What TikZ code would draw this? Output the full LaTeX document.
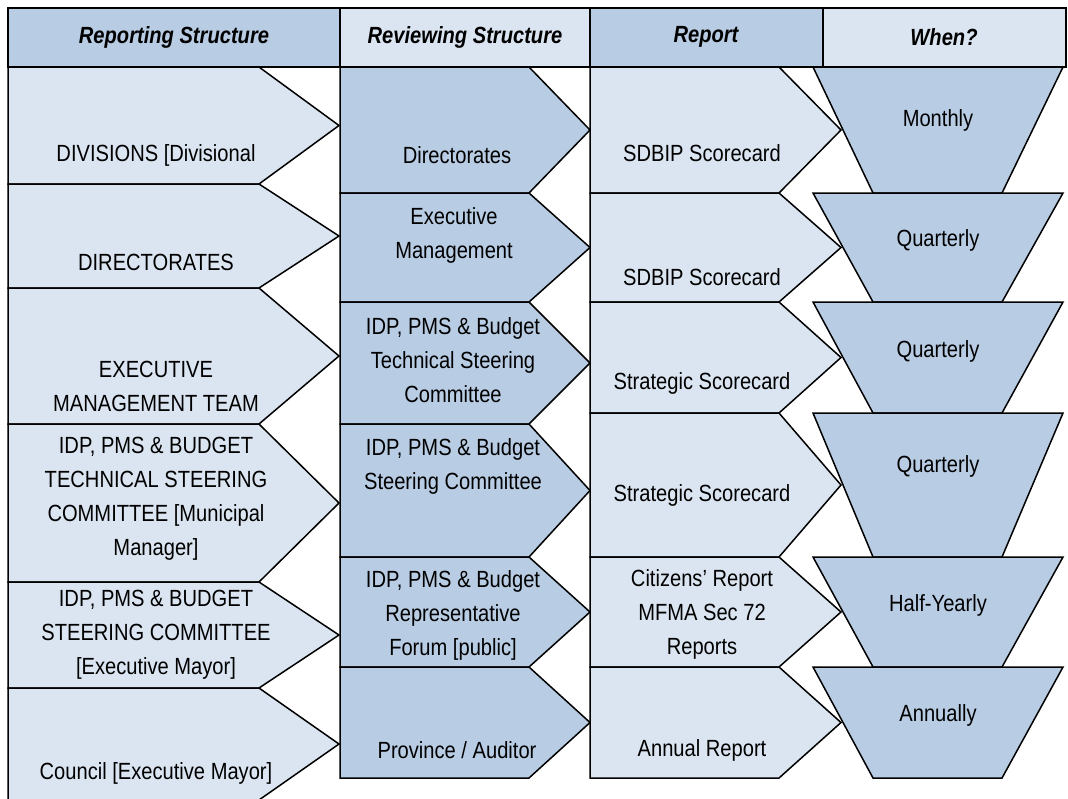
\documentclass[tikz,border=0pt]{standalone}
\usepackage{fontspec}
\setmainfont{Liberation Sans}[FakeStretch=0.86]

\definecolor{darkblue}{RGB}{184,204,228}
\definecolor{paleblue}{RGB}{219,229,241}

\begin{document}
\begin{tikzpicture}[x=0.5pt, y=-0.5pt,
        pale/.style={draw, fill=paleblue, line width=0.75pt},
        dark/.style={draw, fill=darkblue, line width=0.75pt},
        txt/.style={font=\fontsize{11.7}{17}\selectfont, align=center, inner sep=0pt},
        head/.style={font=\fontsize{11.7}{17}\selectfont\bfseries\itshape, inner sep=0pt}]
        \useasboundingbox (0,0) rectangle (1068,798);

        \draw[dark] (8,8) rectangle (340,67);
        \draw[pale] (340,8) rectangle (590,67);
        \draw[dark] (590,8) rectangle (823,67);
        \draw[pale] (823,8) rectangle (1066,67);
        \node[head](h1) at (174,37){Reporting Structure};
        \node[head](h2) at (465,37){Reviewing Structure};
        \node[head](h3) at (706,37){Report};
        \node[head](h4) at (944,37){When?};

        \draw[pale] (8,67) -- (259,67) -- (339,125.5) -- (259,184) -- (8,184) -- cycle;
        \draw[pale] (8,184) -- (259,184) -- (339,236) -- (259,288) -- (8,288) -- cycle;
        \draw[pale] (8,288) -- (259,288) -- (339,356) -- (259,424) -- (8,424) -- cycle;
        \draw[pale] (8,424) -- (259,424) -- (339,503) -- (259,582) -- (8,582) -- cycle;
        \draw[pale] (8,582) -- (259,582) -- (339,635) -- (259,688) -- (8,688) -- cycle;
        \draw[pale] (8,688) -- (259,688) -- (339,744) -- (259,800) -- (8,800) -- cycle;

        \draw[dark] (340,67) -- (529,67) -- (590,130) -- (529,193) -- (340,193) -- cycle;
        \draw[dark] (340,193) -- (529,193) -- (590,247.5) -- (529,302) -- (340,302) -- cycle;
        \draw[dark] (340,302) -- (529,302) -- (590,363) -- (529,424) -- (340,424) -- cycle;
        \draw[dark] (340,424) -- (529,424) -- (590,490.5) -- (529,557) -- (340,557) -- cycle;
        \draw[dark] (340,557) -- (529,557) -- (590,612) -- (529,667) -- (340,667) -- cycle;
        \draw[dark] (340,667) -- (529,667) -- (590,722.5) -- (529,778) -- (340,778) -- cycle;

        \draw[pale] (590,67) -- (779,67) -- (841,130) -- (779,193) -- (590,193) -- cycle;
        \draw[pale] (590,193) -- (779,193) -- (841,247.5) -- (779,302) -- (590,302) -- cycle;
        \draw[pale] (590,302) -- (779,302) -- (841,357.5) -- (779,413) -- (590,413) -- cycle;
        \draw[pale] (590,413) -- (779,413) -- (841,485) -- (779,557) -- (590,557) -- cycle;
        \draw[pale] (590,557) -- (779,557) -- (841,612) -- (779,667) -- (590,667) -- cycle;
        \draw[pale] (590,667) -- (779,667) -- (841,722.5) -- (779,778) -- (590,778) -- cycle;

        \draw[dark] (813,67) -- (1063,67) -- (1002,193) -- (873,193) -- cycle;
        \draw[dark] (813,193) -- (1063,193) -- (1002,302) -- (873,302) -- cycle;
        \draw[dark] (813,302) -- (1063,302) -- (1002,413) -- (873,413) -- cycle;
        \draw[dark] (813,413) -- (1063,413) -- (1002,557) -- (873,557) -- cycle;
        \draw[dark] (813,557) -- (1063,557) -- (1002,667) -- (873,667) -- cycle;
        \draw[dark] (813,667) -- (1063,667) -- (1002,778) -- (873,778) -- cycle;

        \node[txt](r1) at (156,155){DIVISIONS [Divisional};
        \node[txt](r2) at (156,262){DIRECTORATES};
        \node[txt](r3) at (156,386){EXECUTIVE\\MANAGEMENT TEAM};
        \node[txt](r4) at (156,499){IDP, PMS \& BUDGET\\TECHNICAL STEERING\\COMMITTEE [Municipal\\Manager]};
        \node[txt](r5) at (156,635){IDP, PMS \& BUDGET\\STEERING COMMITTEE\\{[Executive Mayor]}};
        \node[txt](r6) at (156,773){Council [Executive Mayor]};

        \node[txt](v1) at (457,155){Directorates};
        \node[txt](v2) at (454,235){Executive\\Management};
        \node[txt](v3) at (453,360){IDP, PMS \& Budget\\Technical Steering\\Committee};
        \node[txt](v4) at (453,466){IDP, PMS \& Budget\\Steering Committee};
        \node[txt](v5) at (453,615){IDP, PMS \& Budget\\Representative\\Forum [public]};
        \node[txt](v6) at (457,750){Province / Auditor};

        \node[txt](p1) at (702,153){SDBIP Scorecard};
        \node[txt](p2) at (702,277){SDBIP Scorecard};
        \node[txt](p3) at (702,383){Strategic Scorecard};
        \node[txt](p4) at (702,495){Strategic Scorecard};
        \node[txt](p5) at (702,614){Citizens’ Report\\MFMA Sec 72\\Reports};
        \node[txt](p6) at (702,750){Annual Report};

        \node[txt](w1) at (938,120){Monthly};
        \node[txt](w2) at (938,240){Quarterly};
        \node[txt](w3) at (938,351){Quarterly};
        \node[txt](w4) at (938,466){Quarterly};
        \node[txt](w5) at (938,605){Half-Yearly};
        \node[txt](w6) at (938,715){Annually};

    \end{tikzpicture}
\end{document}
